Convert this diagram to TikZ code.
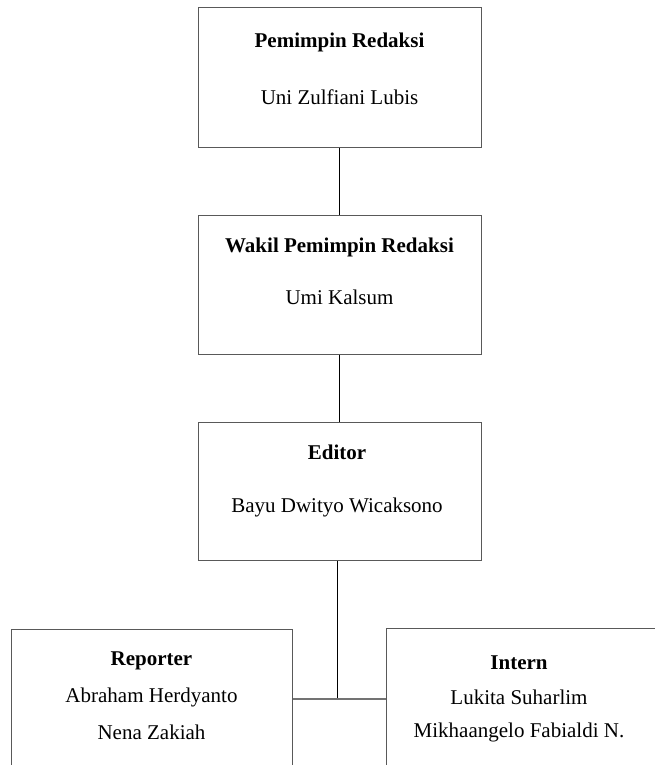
\documentclass[tikz,border=0pt]{standalone}
\usepackage{fontspec}
\setmainfont{Liberation Serif}
\begin{document}
\begin{tikzpicture}[x=1pt,y=-1pt,
  box/.style={draw=black!65, line width=1pt, rectangle, inner sep=0pt, fill=none},
  ttl/.style={font=\fontsize{21}{25}\selectfont\bfseries, inner sep=0pt, anchor=center},
  nm/.style={font=\fontsize{21}{25}\selectfont, inner sep=0pt, anchor=center},
  conn/.style={draw=black, line width=1pt},
  hconn/.style={draw=black!55, line width=1.2pt}]
\useasboundingbox (0,0) rectangle (655,765);
\clip (0,0) rectangle (655,765);
% boxes
\node[box, minimum width=283pt, minimum height=139pt] (b1) at (339.5,77.5) {};
\node[box, minimum width=283pt, minimum height=139pt] (b2) at (339.5,284.5) {};
\node[box, minimum width=283pt, minimum height=138pt] (b3) at (339.5,491) {};
\node[box, minimum width=281pt, minimum height=172pt] (b4) at (151.5,715) {};
\node[box, minimum width=276pt, minimum height=172pt] (b5) at (524,714) {};
% texts
\node[ttl] (t1) at (339.5,42) {Pemimpin Redaksi};
\node[nm] (n1) at (339.5,97) {Uni Zulfiani Lubis};
\node[ttl] (t2) at (339.5,247) {Wakil Pemimpin Redaksi};
\node[nm] (n2) at (339.5,297) {Umi Kalsum};
\node[ttl] (t3) at (337,452) {Editor};
\node[nm] (n3) at (337,507) {Bayu Dwityo Wicaksono};
\node[ttl] (t4) at (151.5,661) {Reporter};
\node[nm] (n4a) at (151.5,697) {Abraham Herdyanto};
\node[nm] (n4b) at (151.5,732) {Nena Zakiah};
\node[ttl] (t5) at (519,663) {Intern};
\node[nm] (n5a) at (519,697) {Lukita Suharlim};
\node[nm] (n5b) at (519,732) {Mikhaangelo Fabialdi N.};
% connectors
\coordinate (j) at (337,699);
\draw[conn] (b1.south) -- (b2.north);
\draw[conn] (b2.south) -- (b3.north);
\draw[conn] (b3.south -| j) -- (j);
\draw[hconn] (b4.east |- j) -- (b5.west |- j);
\end{tikzpicture}
\end{document}
